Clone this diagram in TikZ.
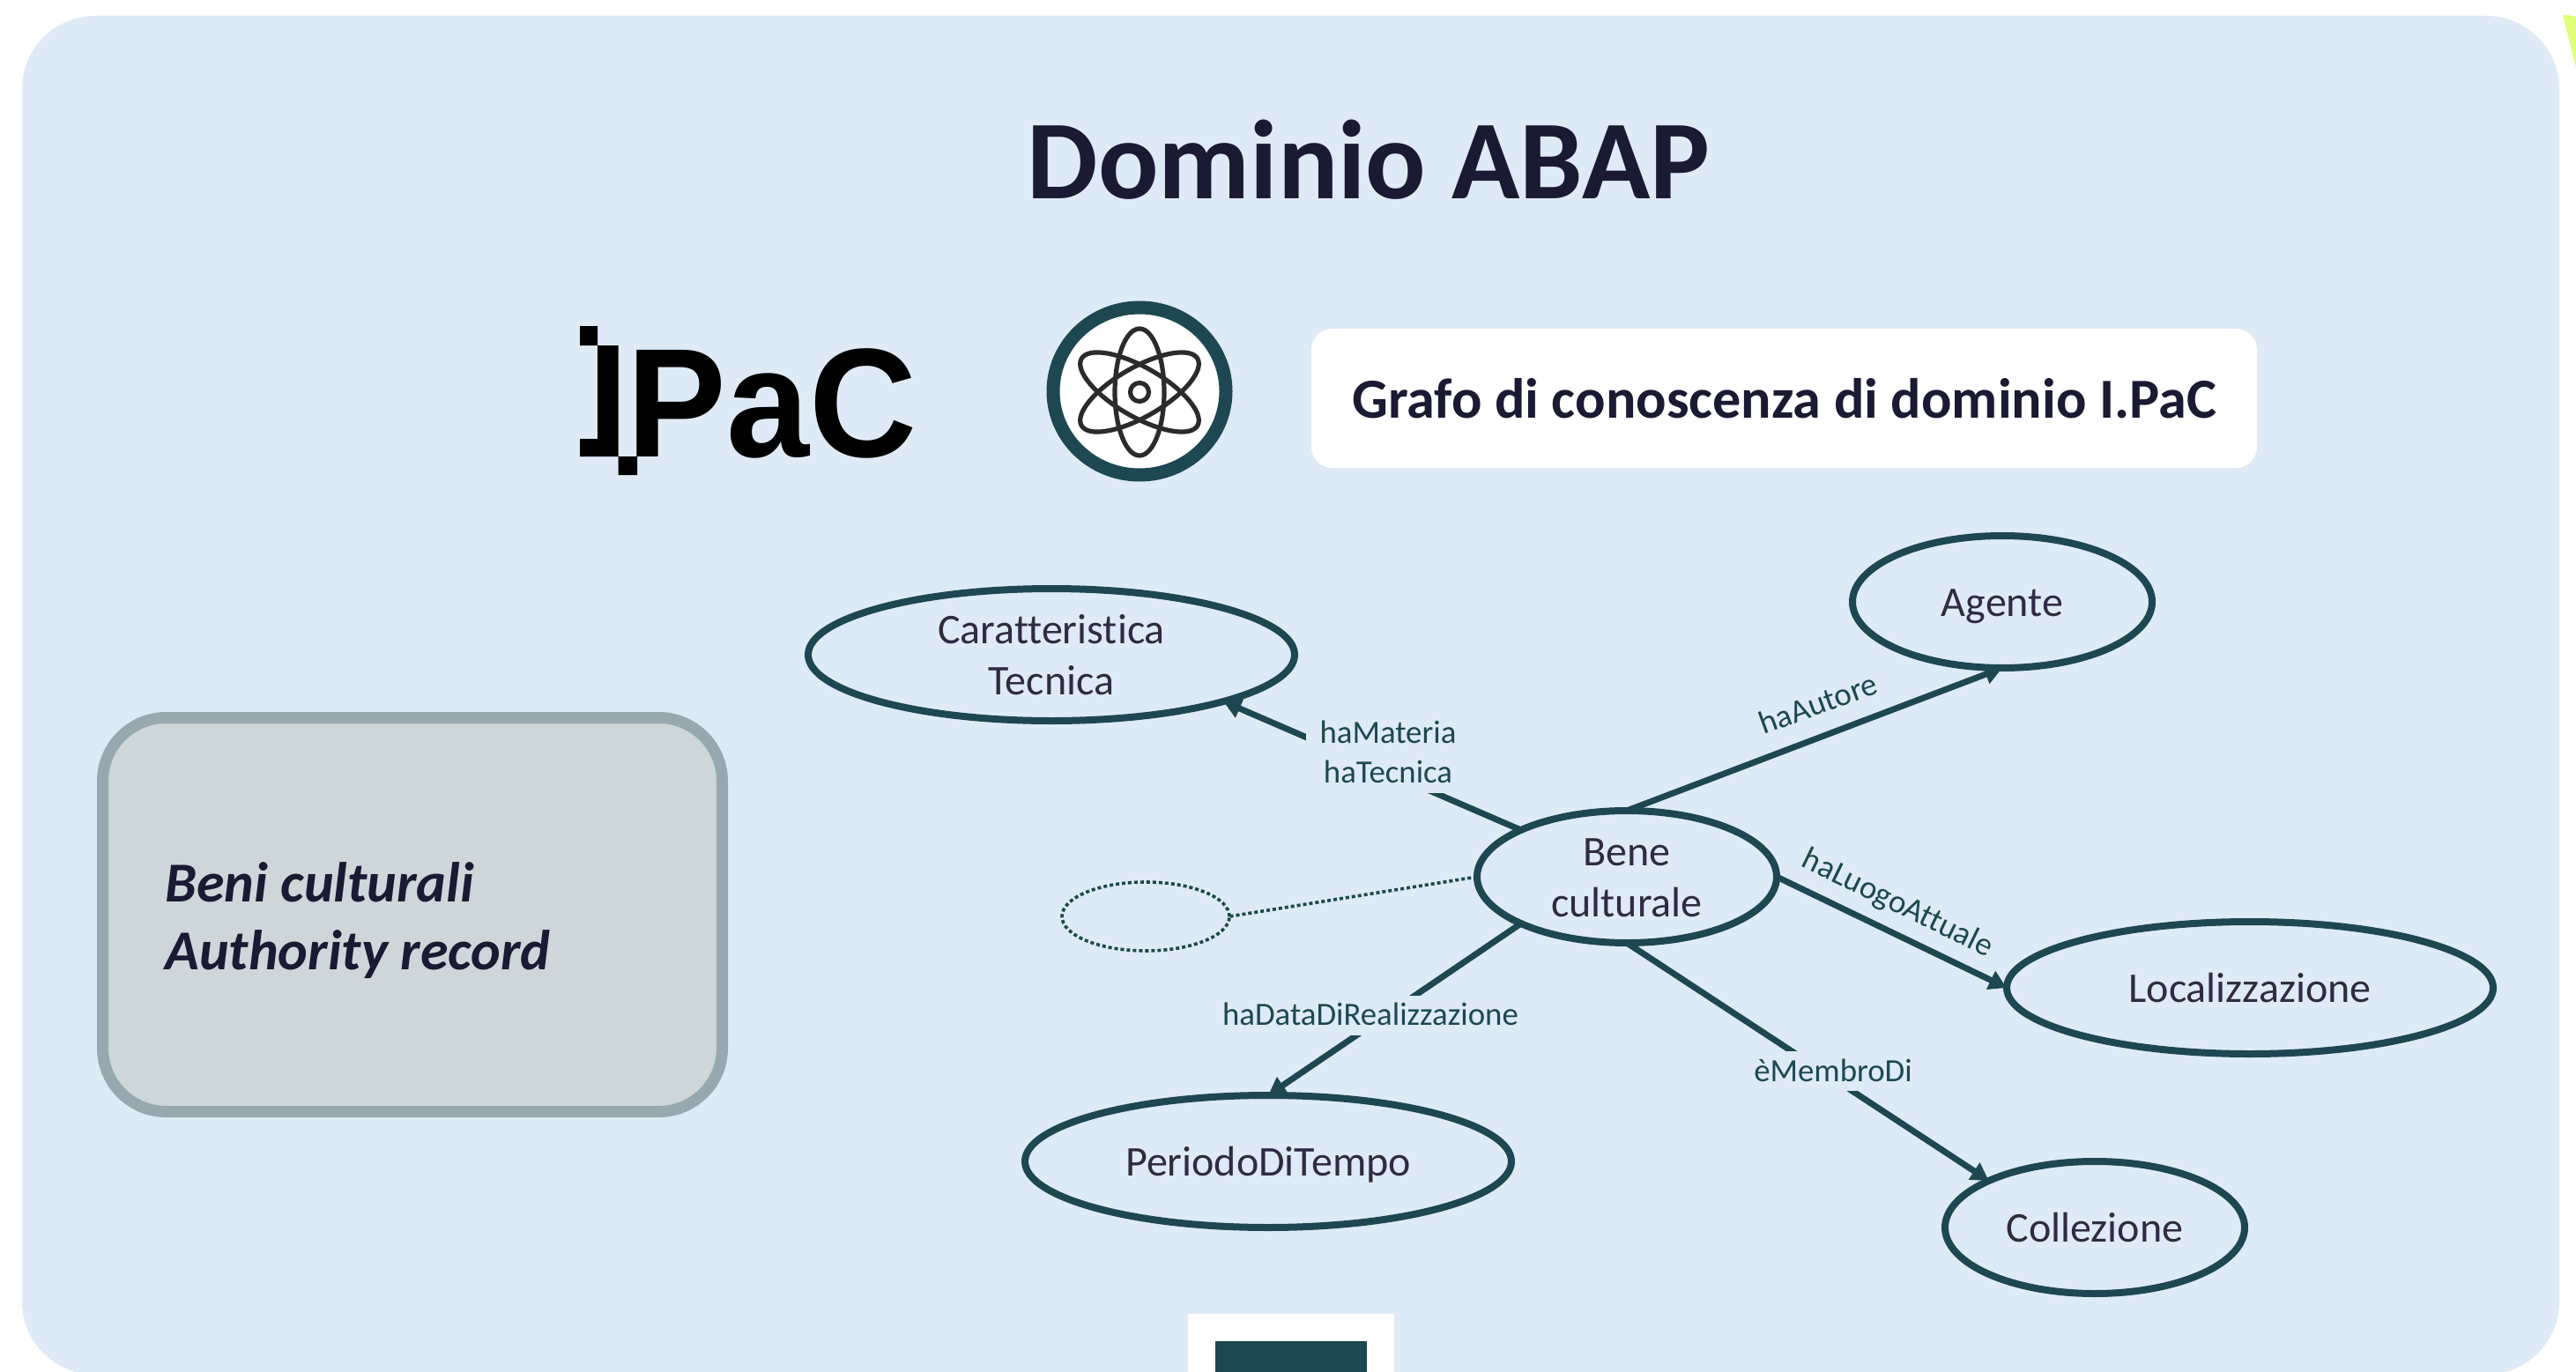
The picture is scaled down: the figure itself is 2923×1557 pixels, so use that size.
\documentclass[tikz,border=0pt]{standalone}
\usepackage{graphicx}
\usepackage{fontspec}
\setmainfont{Carlito}[Ligatures=NoCommon]
\newfontfamily\logofont{Liberation Sans}
\usetikzlibrary{shapes.geometric,arrows.meta}
\definecolor{panelc}{HTML}{DEEAF6}
\definecolor{teal}{HTML}{1D4851}
\definecolor{inkc}{HTML}{1A1A33}
\definecolor{nodetext}{HTML}{2F2B43}
\definecolor{boxfill}{HTML}{CDD6D9}
\definecolor{boxline}{HTML}{97A9AE}
\definecolor{limec}{HTML}{E0FF7A}
\definecolor{atomc}{HTML}{2B2B2B}
\newcommand\cstrut{\rule[-6.1pt]{0pt}{29pt}}
\newcommand\lstrut{\rule[-5.5pt]{0pt}{22.5pt}}
\tikzset{
  concept/.style={ellipse,draw=teal,line width=4pt,outer sep=0pt,inner sep=-16pt,align=center,text=nodetext,
    font=\fontsize{24}{29}\selectfont},
  wide/.style={concept,minimum width=276pt,minimum height=75pt},
  narrow/.style={concept,minimum width=170pt,minimum height=75pt},
  rel/.style={-{Triangle[length=10pt,width=11pt]},draw=teal,line width=3.5pt},
  lab/.style={text=teal,inner ysep=0pt,align=center,font=\fontsize{18.4}{22.5}\selectfont},
  masklab/.style={lab,fill=panelc,inner xsep=8pt},
  orbit/.style={draw=atomc,line width=2.6pt},
  dotline/.style={draw=teal,line width=1.8pt,dash pattern=on 2pt off 1.5pt},
}
\begin{document}
\begin{tikzpicture}[x=0.5pt,y=-0.5pt]
\useasboundingbox (0,0) rectangle (2923,1557);
\fill[white] (0,0) rectangle (2923,1557);
\begin{scope}
\clip (0,0) rectangle (2923,1557);
\fill[panelc,rounded corners=41.5pt] (25,18) rectangle (2904,1560);
\fill[limec] (2908,17) .. controls (2914,17) and (2919,18) .. (2923,19) -- (2923,77) -- cycle;
\fill[white] (1348,1491) rectangle (1582,1557);
\fill[teal] (1379,1522) rectangle (1551,1557);
\end{scope}

\node[anchor=base,text=inkc,inner sep=0pt,font=\fontsize{63.8}{70}\selectfont\bfseries] (title) at (1553,226) {Dominio ABAP};

% logo
\fill[black] (658,370) rectangle (678,392) (678,392) rectangle (701.5,518) (658,498) rectangle (678,518) (701.5,518) rectangle (723,539);
\node[anchor=base west,inner sep=0pt,text=black,font=\fontsize{88}{90}\logofont\bfseries] (logo) at (711,518) {\scalebox{.96}[1]{PaC}};

% atom
\fill[white] (1293,444) ellipse [x radius=98,y radius=95];
\draw[teal,line width=7.5pt] (1293,444) ellipse [x radius=98,y radius=95];
\draw[orbit] (1293,445) ellipse [x radius=28,y radius=72];
\draw[orbit,rotate around={60:(1293,445)}] (1293,445) ellipse [x radius=28,y radius=76];
\draw[orbit,rotate around={-60:(1293,445)}] (1293,445) ellipse [x radius=28,y radius=76];
\draw[orbit] (1293,445) circle [radius=10.5];

\node[fill=white,rounded corners=12pt,minimum width=536.5pt,minimum height=79pt,inner sep=0pt,text=inkc,font=\fontsize{32.1}{38}\selectfont\bfseries] (grafo) at (2024.5,452) {Grafo di conoscenza di dominio I.PaC};

\node[draw=boxline,fill=boxfill,line width=6.5pt,rounded corners=36pt,minimum width=351.5pt,minimum height=223.5pt,inner sep=0pt] (box) at (468,1038) {};
\node[anchor=base west,inner sep=0pt,text=inkc,align=left,font=\fontsize{32}{38}\selectfont\bfseries\itshape] (boxtext) at (187,1023) {Beni culturali};
\node[anchor=base west,inner sep=0pt,text=inkc,align=left,font=\fontsize{32}{38}\selectfont\bfseries\itshape] (boxtextb) at (187,1100) {Authority record};

% concepts
\node[narrow] (bene) at (1846,995) {\cstrut Bene\\\cstrut culturale};
\node[narrow] (agente) at (2272,683) {\cstrut Agente};
\node[wide] (carat) at (1193,743) {\cstrut Caratteristica\\\cstrut Tecnica};
\node[wide] (luogo) at (2553,1121) {\cstrut Localizzazione};
\node[wide] (periodo) at (1439,1318) {\cstrut PeriodoDiTempo};
\node[narrow] (coll) at (2377,1393) {\cstrut Collezione};
\node[ellipse,dotline,outer sep=0pt,inner sep=0pt,minimum width=95pt,minimum height=39pt] (dot) at (1300,1040) {};

% connectors
\draw[rel] (bene.north west) -- (carat.south east);
\draw[rel] (bene.north) -- (agente.south);
\draw[rel] (bene.east) -- (luogo.west);
\draw[rel] (bene.south west) -- (periodo.north);
\draw[rel] (bene.south) -- (coll.north west);
\draw[dotline] (bene.west) -- (dot.east);

% labels
\node[masklab] (lmat) at (1575,854.5) {\lstrut haMateria\\\lstrut haTecnica};
\node[masklab] (ldata) at (1555,1152) {\lstrut haDataDiRealizzazione};
\node[masklab] (lmem) at (2080,1215.5) {\lstrut èMembroDi};
\node[lab,rotate=20] (laut) at (2063,798) {haAutore};
\node[lab,rotate=-26] (lluo) at (2153,1026) {haLuogoAttuale};
\end{tikzpicture}
\end{document}
